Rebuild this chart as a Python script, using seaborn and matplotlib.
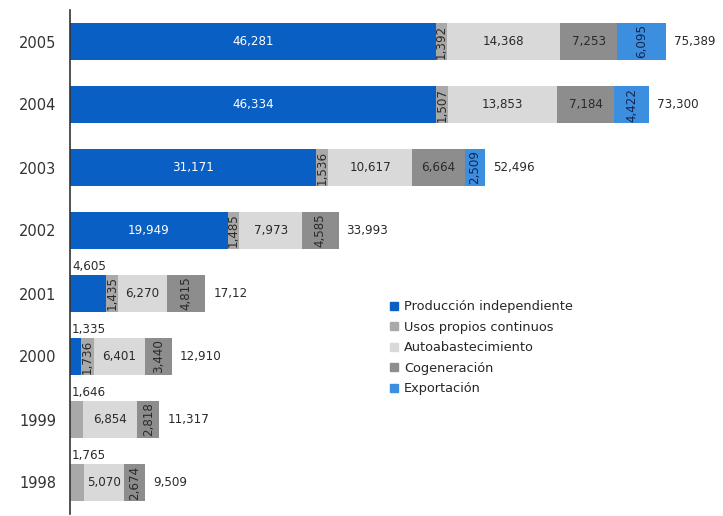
import matplotlib
matplotlib.use("Agg")
import matplotlib.pyplot as plt
from matplotlib.lines import Line2D
import seaborn as sns
import numpy as np

years = ["2005", "2004", "2003", "2002", "2001", "2000", "1999", "1998"]
series_names = ["Producción independiente", "Usos propios continuos",
                "Autoabastecimiento", "Cogeneración", "Exportación"]
produccion = [46281, 46334, 31171, 19949, 4605, 1335, 0, 0]
usos_propios = [1392, 1507, 1536, 1485, 1435, 1736, 1646, 1765]
autoabasto = [14368, 13853, 10617, 7973, 6270, 6401, 6854, 5070]
cogeneracion = [7253, 7184, 6664, 4585, 4815, 3440, 2818, 2674]
exportacion = [6095, 4422, 2509, 0, 0, 0, 0, 0]
total_labels = ["75,389", "73,300", "52,496", "33,993", "17,12", "12,910", "11,317", "9,509"]

colors = ["#0a5fc4", "#a9a9a9", "#d9d9d9", "#8d8d8d", "#3c8ede"]
text_colors = ["white", "#2a2a2a", "#2a2a2a", "#2a2a2a", "#14264d"]
# minimum segment width (px) for a horizontal label; narrower ones are rotated
min_horizontal_px = [0, np.inf, 0, 45, np.inf]

sns.set_style("white")
plt.rcParams["font.family"] = ["DejaVu Sans"]

fig = plt.figure(figsize=(7.23, 5.16), dpi=100)
ax = fig.add_axes([70 / 723, 1 - 514 / 516, 653 / 723, 504 / 516])

series = [produccion, usos_propios, autoabasto, cogeneracion, exportacion]
vals = np.array(series, dtype=float)
cum = np.cumsum(vals, axis=0)
BAR_H = 0.6

# stacked bars: draw cumulative totals from the outermost segment inward
for i in range(len(series) - 1, -1, -1):
    sns.barplot(x=cum[i], y=years, order=years, orient="h", color=colors[i],
                saturation=1, width=BAR_H, ax=ax, linewidth=0)

xmax = 653 / 0.0079
ax.set_xlim(0, xmax)
ax.set_ylim(len(years) - 0.5, -0.5)

px = xmax / 653.0  # data units per pixel
fs = 8.6
for r, yr in enumerate(years):
    starts = cum[:, r] - vals[:, r]
    first = True
    for i in range(len(series)):
        v = vals[i, r]
        if v <= 0:
            continue
        w_px = v / px
        label = f"{int(v):,}"
        cx = starts[i] + v / 2
        if first and w_px < 45:
            # a narrow leading segment gets its label above the bar
            ax.text(starts[i] + 2 * px, r - BAR_H / 2 - 0.02, label, ha="left",
                    va="bottom", fontsize=fs, color="#2a2a2a", clip_on=False)
            first = False
            continue
        first = False
        if w_px < min_horizontal_px[i]:
            ax.text(cx, r, label, ha="center", va="center", rotation=90,
                    fontsize=fs, color=text_colors[i])
        else:
            ax.text(cx, r, label, ha="center", va="center", fontsize=fs,
                    color=text_colors[i])
    ax.text(cum[-1, r] + 8 * px, r, total_labels[r], ha="left", va="center",
            fontsize=fs, color="#2a2a2a", clip_on=False)

# axis styling: one vertical spine, small ticks between categories
for s in ["top", "right", "bottom"]:
    ax.spines[s].set_visible(False)
ax.spines["left"].set_color("#333333")
ax.spines["left"].set_linewidth(1.2)
ax.set_xticks([])
ax.set_xlabel("")
ax.set_ylabel("")
ax.set_yticks(range(len(years)))
ax.set_yticklabels(years, fontsize=10.5, color="#333333")
ax.tick_params(axis="y", which="major", length=0, pad=10)
ax.set_yticks(np.arange(-0.5, len(years) + 0.5, 1), minor=True)
ax.tick_params(axis="y", which="minor", length=4, width=1.2, color="#333333",
               direction="out")

handles = [Line2D([0], [0], marker="s", linestyle="none", markersize=6,
                  markerfacecolor=c, markeredgecolor=c) for c in colors]
fig.legend(handles, series_names, loc="upper left",
           bbox_to_anchor=(382 / 723, 1 - 295 / 516), frameon=False,
           fontsize=9.3, handletextpad=0.3, labelspacing=0.58,
           borderaxespad=0, handlelength=1.0)

fig.savefig("out.png", dpi=100)
